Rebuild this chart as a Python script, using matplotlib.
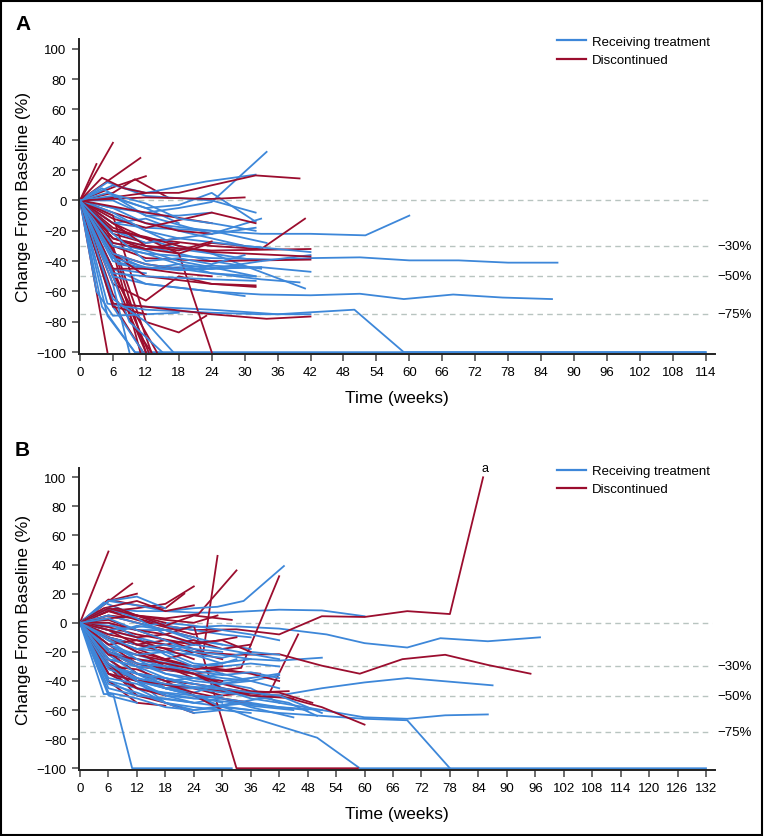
import matplotlib
matplotlib.use("Agg")
import matplotlib.pyplot as plt
from matplotlib.patches import Rectangle
import matplotlib.transforms as mtransforms

plt.rcParams['font.family'] = ['Liberation Sans', 'DejaVu Sans']

BLUE = '#3d87d9'
RED = '#9b0d2e'
GRID = '#b8c4c0'

# ---- data: (weeks, % change from baseline) per patient ----
a_treat = [
    ([0, 6, 12, 24, 33, 42, 52, 60], [0, -15, -18, -20, -22, -22, -23, -10]),
    ([0, 6, 12, 24, 36, 42, 51, 60, 69, 78, 87], [0, -30, -35, -38, -39, -38, -37.5, -39.5, -39.5, -41, -41]),
    ([0, 6, 12, 24, 33, 42, 51, 59, 68, 77, 86], [0, -45, -55, -60, -62, -62.5, -61.5, -65, -62, -64, -65]),
    ([0, 6, 12, 24, 36, 50, 59, 114], [0, -68, -70, -72, -75, -72, -100, -100]),
    ([0, 5, 10, 114], [0, -76, -100, -100]),
    ([0, 6, 12, 18, 24, 34], [0, -5, -8, -5, -1, 32]),
    ([0, 6, 12, 23, 32], [0, 10, 5, 12.5, 17]),
    ([0, 5, 12, 24, 32], [0, 12, 3, 0, -8]),
    ([0, 6, 12, 18, 24, 32], [0, 2, -5, -3, 5, -14]),
    ([0, 6, 12, 18, 24, 33], [0, -10, -20, -30, -35, -40]),
    ([0, 6, 12, 24, 33], [0, -25, -30, -40, -45]),
    ([0, 6, 12, 24, 33, 42], [0, -35, -45, -45, -44, -47]),
    ([0, 6, 12, 18, 24, 32], [0, -40, -45, -42, -48, -50]),
    ([0, 6, 12, 24, 30], [0, -50, -55, -60, -63]),
    ([0, 6, 12, 18, 24, 41], [0, -20, -25, -32, -35, -58]),
    ([0, 6, 12, 24, 34], [0, -5, -15, -20, -28]),
    ([0, 6, 11.5], [0, -70, -100]),
    ([0, 6, 12], [0, -45, -48]),
    ([0, 7, 12, 18, 24, 30], [0, -42, -45, -44, -43, -44]),
    ([0, 6, 12, 18, 24, 30, 33], [0, -15, -12, -20, -25, -30, -31]),
    ([0, 6, 12, 24, 33], [0, 3, -10, -22, -12]),
    ([0, 6, 12, 18, 24], [0, 0, -10, -10, -8]),
    ([0, 4, 8, 12, 18], [0, 8, 0, -5, -15]),
    ([0, 6, 12, 18, 24, 32], [0, -28, -33, -40, -44, -50]),
    ([0, 5, 12, 24, 33, 42], [0, -68, -72, -74, -75, -75]),
    ([0, 3, 6, 12, 18], [0, -60, -76, -75, -74]),
    ([0, 6, 9, 15], [0, -50, -80, -100]),
    ([0, 4, 10], [0, -70, -100]),
    ([0, 6, 12, 18, 24, 33, 42], [0, -30, -35, -42, -45, -40, -36]),
    ([0, 6, 12, 18, 30, 42], [0, -20, -28, -25, -30, -34]),
    ([0, 6, 12, 18, 24, 32], [0, -8, -20, -25, -22, -18]),
    ([0, 6, 12, 24, 33, 40], [0, -35, -42, -48, -52, -54]),
    ([0, 6, 12, 17], [0, -65, -80, -100]),
    ([0, 6, 9], [0, -55, -100]),
    ([0, 6, 12, 18, 24, 33], [0, -38, -44, -46, -45, -44]),
    ([0, 6, 12, 18, 24, 30], [0, -22, -40, -38, -42, -36]),
    ([0, 5, 12, 18, 24, 32], [0, 5, -2, -12, -15, -20]),
    ([0, 6, 12, 24, 32], [0, -48, -50, -52, -53]),
]

a_disc = [
    ([0, 3], [0, 24]),
    ([0, 6], [0, 38]),
    ([0, 11], [0, 28]),
    ([0, 7, 12], [0, 10, 16]),
    ([0, 6, 10, 16], [0, 5, 14, 2]),
    ([0, 5], [0, -100]),
    ([0, 6, 12], [0, -30, -100]),
    ([0, 6, 12.5], [0, -45, -100]),
    ([0, 6, 13], [0, -62, -100]),
    ([0, 5, 11], [0, -20, -100]),
    ([0, 7, 14], [0, -55, -100]),
    ([0, 6, 12], [0, -50, -100]),
    ([0, 7, 13], [0, -38, -100]),
    ([0, 6, 11.5], [0, -68, -100]),
    ([0, 6, 12, 18, 23], [0, -10, -80, -87, -76]),
    ([0, 6, 12, 18, 24], [0, -18, -25, -35, -100]),
    ([0, 6, 12, 18, 24, 32, 40], [0, 2, 5, 5, 10, 16.5, 14.5]),
    ([0, 6, 12, 24, 33, 41], [0, -15, -25, -30, -32, -12]),
    ([0, 6, 12, 24, 42], [0, -25, -30, -33, -32]),
    ([0, 6, 12, 24, 42], [0, -30, -38, -40, -39]),
    ([0, 6, 12, 24, 32], [0, -35, -50, -55, -56]),
    ([0, 6, 12, 18, 24, 32], [0, -55, -66, -50, -55, -57]),
    ([0, 6, 12, 24, 30], [0, 1, 2, 1, 2]),
    ([0, 6, 12, 18, 24], [0, -8, -15, -20, -22]),
    ([0, 6, 12, 18], [0, -22, -28, -25]),
    ([0, 6, 12, 18, 24, 30], [0, -28, -32, -35, -28, -30]),
    ([0, 6, 12, 24, 32], [0, -12, -18, -8, -15]),
    ([0, 6, 12], [0, -70, -75]),
    ([0, 6, 12, 24, 34, 42], [0, -68, -70, -75, -78, -76.5]),
    ([0, 6, 12, 18], [0, -35, -42, -45]),
    ([0, 4, 8, 12], [0, 15, 8, 5]),
    ([0, 6, 12, 18, 24], [0, -45, -45, -48, -50]),
    ([0, 6, 12, 24], [0, -4, -8, -15]),
    ([0, 6, 12, 18, 24, 42], [0, -20, -24, -30, -34, -37]),
    ([0, 6, 12, 18], [0, -25, -32, -28]),
    ([0, 6, 12, 18, 24], [0, -15, -30, -33, -27]),
]

b_treat = [
    ([0, 6, 12, 18, 24, 30, 42, 51, 60], [0, 10, 8, 8, 7, 7, 9, 8.5, 4.5]),
    ([0, 6, 12, 18, 24, 30, 36, 42, 52, 60, 69, 76, 86, 97], [0, -2, -5, -5, -3, -2, -3, -4, -8, -14, -17, -10.6, -12.7, -10]),
    ([0, 6, 12, 24, 29, 42, 51, 60, 69, 87], [0, -30, -40, -50, -57, -50, -45, -41, -38, -43]),
    ([0, 6, 12, 24, 36, 50, 59, 132], [0, -20, -35, -50, -65, -79, -100, -100]),
    ([0, 6, 12, 24, 36, 42, 51, 60, 69, 78], [0, -40, -50, -55, -60, -62, -64, -66, -67, -100]),
    ([0, 6, 12, 24, 36, 42, 51, 60, 69, 77, 86], [0, -35, -45, -52, -56, -58, -60, -65, -66, -63.6, -63]),
    ([0, 5, 7, 11, 32], [0, -49, -49, -100, -100]),
    ([0, 6, 12, 18, 24, 29, 34.5, 43], [0, 15, 12, 8, 10, 11, 15, 39]),
    ([0, 6, 12, 24, 36, 42, 51], [0, -20, -25, -30, -25, -26, -24]),
    ([0, 6, 12, 18], [0, 15, 18, 10]),
    ([0, 5, 12, 18, 24, 30, 36], [0, 14, 5, -2, -5, -8, -10]),
    ([0, 6, 12, 18, 24, 30, 36, 42], [0, -10, -15, -20, -28, -30, -28, -30]),
    ([0, 6, 12, 18, 24, 30], [0, -20, -35, -45, -50, -55]),
    ([0, 6, 12, 18, 24, 30, 36], [0, -30, -45, -55, -60, -58, -60]),
    ([0, 6, 12, 18, 24, 30, 36, 45], [0, -25, -40, -50, -55, -52, -57, -60]),
    ([0, 6, 12, 18, 24, 30], [0, -5, -10, -15, -18, -20]),
    ([0, 6, 12, 18, 24, 30, 36, 42], [0, -15, -22, -28, -35, -38, -40, -36]),
    ([0, 6, 12, 18, 24, 30], [0, -35, -40, -55, -62, -60]),
    ([0, 6, 12, 18, 24], [0, -45, -50, -52, -55]),
    ([0, 6, 12, 18, 24, 30, 36], [0, -8, -2, -5, -10, -15, -18]),
    ([0, 6, 12, 18, 24, 30, 36, 42], [0, -25, -30, -32, -35, -40, -38, -35]),
    ([0, 6, 12, 18, 24, 30, 36, 45], [0, -40, -45, -48, -50, -52, -58, -65]),
    ([0, 6, 12, 18, 24, 30, 36, 44, 50], [0, -20, -30, -45, -45, -48, -50, -55, -64]),
    ([0, 6, 12, 18, 24, 30], [0, 5, 0, -5, -12, -15]),
    ([0, 6, 12, 24, 30, 36, 42], [0, -12, -18, -22, -24, -20, -22]),
    ([0, 6, 12, 18, 24, 30], [0, -30, -35, -40, -38, -35]),
    ([0, 6, 12, 18, 24, 36, 42, 51], [0, -18, -28, -35, -38, -45, -55, -60]),
    ([0, 6, 12, 18, 24, 30, 36], [0, 0, -10, -22, -30, -35, -40]),
    ([0, 6, 12, 18, 24, 30], [0, -28, -38, -45, -48, -42]),
    ([0, 6, 12, 18, 24, 30, 36, 42], [0, -5, -3, 0, -2, -5, -8, -12]),
    ([0, 6, 12, 18, 24, 30, 36], [0, -42, -48, -55, -58, -60, -62]),
    ([0, 6, 12, 18, 24, 30, 33], [0, -15, -25, -30, -30, -28, -25]),
    ([0, 6, 12, 18, 24, 30, 36, 42], [0, -22, -35, -38, -45, -42, -40, -45]),
    ([0, 6, 12, 18, 24, 30, 42], [0, 10, 3, -8, -15, -18, -25]),
    ([0, 6, 12], [0, -50, -55]),
    ([0, 6, 12, 18, 24], [0, -18, -22, -20, -15]),
    ([0, 6, 12, 18, 24, 30, 36, 42, 51], [0, -30, -35, -38, -42, -45, -48, -50, -62]),
    ([0, 6, 12, 18, 24, 30, 36, 42], [0, -32, -38, -42, -44, -46, -52, -55]),
    ([0, 6, 12, 18, 24, 30, 36], [0, -12, -25, -35, -40, -42, -38]),
    ([0, 6, 12, 18, 24, 30], [0, -38, -42, -50, -52, -50]),
    ([0, 6, 12, 18, 24, 30, 36, 42], [0, -20, -28, -30, -33, -36, -34, -38]),
    ([0, 6, 12, 18, 24], [0, -25, -30, -38, -42]),
    ([0, 6, 12, 18, 24, 30, 36], [0, 3, -5, -12, -20, -22, -25]),
    ([0, 6, 12, 18, 24, 30, 36, 42, 48], [0, -28, -40, -45, -50, -52, -55, -58, -60]),
    ([0, 6, 12, 18, 24, 30], [0, -10, -18, -15, -22, -28]),
    ([0, 6, 12, 18, 24, 30, 36], [0, -48, -52, -58, -60, -57, -55]),
]

b_disc = [
    ([0, 6], [0, 49]),
    ([0, 11], [0, 27]),
    ([0, 6, 12], [0, 15, 20]),
    ([0, 6, 12, 18, 24], [0, 8, 10, 13, 25]),
    ([0, 6, 12, 18, 22], [0, 16, 12, 10, 20]),
    ([0, 6, 12, 18, 26, 29], [0, -10, -15, -12, -20, 46]),
    ([0, 6, 12, 18, 25, 33], [0, 8, 5, 3, 6, 36]),
    ([0, 6, 12, 24, 34, 42], [0, -20, -30, -35, -31, 32]),
    ([0, 6, 12, 24, 33, 40, 46], [0, -30, -40, -45, -47, -48, -8]),
    ([0, 6, 12, 18, 24, 33, 42, 51, 60, 69, 78, 85], [0, 5, 3, -2, -5, -4.5, -8, 4.5, 4, 8, 6, 100]),
    ([0, 6, 12, 24, 33, 42, 51, 59, 68, 77, 86, 95], [0, -10, -15, -20, -22, -21.6, -29.5, -35, -25, -22, -29, -35]),
    ([0, 6, 12, 24, 33, 42, 51, 60], [0, -25, -40, -45, -48, -50, -58, -70]),
    ([0, 6, 12, 18, 24, 33, 58.6], [0, 2, -5, -8, -2, -100, -100]),
    ([0, 6, 12, 18], [0, -40, -55, -57]),
    ([0, 6, 12, 18, 24], [0, -30, -50, -55, -62]),
    ([0, 6, 12, 18, 24, 30], [0, -20, -35, -40, -50, -60]),
    ([0, 6, 12, 18, 24, 30, 36], [0, -25, -38, -45, -45, -50, -48]),
    ([0, 6, 12, 18, 24, 30], [0, -10, -20, -25, -20, -25]),
    ([0, 6, 12, 18, 24], [0, 5, 0, -5, -10]),
    ([0, 6, 12, 18, 24, 30], [0, 8, 2, -3, -8, -5]),
    ([0, 6, 12, 18, 24, 30, 36, 42], [0, -12, -18, -25, -30, -32, -35, -40]),
    ([0, 6, 12, 24, 33], [0, -3, -8, -15, -10]),
    ([0, 6, 12, 18, 24, 30], [0, -15, -28, -30, -38, -40]),
    ([0, 6, 12, 18], [0, -5, -15, -20]),
    ([0, 5, 12, 18, 24], [0, 10, 15, 8, 12]),
    ([0, 6, 12, 18, 24, 30, 36], [0, -8, -12, -15, -12, -18, -15]),
    ([0, 6, 12, 24, 30, 38], [0, -18, -22, -30, -33, -35]),
    ([0, 6, 12, 18, 24, 30, 36, 44], [0, -30, -32, -40, -42, -45, -48, -47]),
    ([0, 6, 12], [0, -35, -45]),
    ([0, 6, 12, 18, 24], [0, 0, -5, -12, -15]),
    ([0, 4, 8, 12, 18], [0, 8, 10, 5, 0]),
    ([0, 6, 12, 18, 24, 30, 36, 42, 49], [0, -10, -20, -30, -35, -42, -47, -48, -55]),
    ([0, 6, 12, 18, 24, 29], [0, 3, 5, 2, 0, 5]),
    ([0, 6, 12, 24, 30, 36, 45], [0, -20, -28, -35, -45, -50, -52]),
    ([0, 6, 12, 18, 24, 30, 36], [0, -35, -40, -42, -48, -52, -55]),
    ([0, 6, 12, 18, 24, 32], [0, 10, 5, -2, 5, 2]),
    ([0, 6, 12, 18, 24, 30], [0, -22, -25, -28, -32, -30]),
    ([0, 6, 12, 18, 24], [0, -15, -12, -18, -25]),
    ([0, 6, 12, 18, 24, 30, 36], [0, -5, -10, -8, -14, -12, -20]),
    ([0, 6, 12, 18], [0, -28, -45, -50]),
]

ref_levels = [0, -30, -50, -75]
ref_labels = ['', '\u221230%', '\u221250%', '\u221275%']
yticks = list(range(-100, 101, 20))
xticks_a = list(range(0, 115, 6))
xticks_b = list(range(0, 133, 6))

fig = plt.figure(figsize=(7.64, 8.37), dpi=100)


def panel(rect, treat, disc, xlim, xticks, ref_end):
    ax = fig.add_axes(rect)
    for lvl in ref_levels:
        ax.plot([0, ref_end], [lvl, lvl], color=GRID, lw=1.0, ls=(0, (4, 3)), zorder=1)
    n = max(len(treat), len(disc))
    for i in range(n):
        if i < len(disc):
            w, v = disc[i]
            ax.plot(w, v, color=RED, lw=1.3, zorder=2)
        if i < len(treat):
            w, v = treat[i]
            ax.plot(w, v, color=BLUE, lw=1.3, zorder=2)
    ax.set_xlim(*xlim)
    ax.set_ylim(-101.2, 106.4)
    ax.set_xticks(xticks)
    ax.set_yticks(yticks)
    ax.set_yticklabels([str(t).replace('-', '\u2212') for t in yticks])
    for s in ['top', 'right']:
        ax.spines[s].set_visible(False)
    for s in ['left', 'bottom']:
        ax.spines[s].set_linewidth(1.4)
        ax.spines[s].set_color('#222222')
    ax.tick_params(direction='out', length=5, width=1.1, color='#444444',
                   labelsize=9.5, pad=4)
    ax.set_xlabel('Time (weeks)', fontsize=12.5, labelpad=8)
    ax.set_ylabel('Change From Baseline (%)', fontsize=12.5, labelpad=4)
    trans = mtransforms.blended_transform_factory(ax.transAxes, ax.transData)
    for lvl, lab in zip(ref_levels, ref_labels):
        if lab:
            ax.text(1.003, lvl, lab, transform=trans, fontsize=9.5,
                    va='center', ha='left')
    h1, = ax.plot([], [], color=BLUE, lw=1.6, label='Receiving treatment')
    h2, = ax.plot([], [], color=RED, lw=1.6, label='Discontinued')
    ax.legend(handles=[h1, h2], loc='upper left', bbox_to_anchor=(0.752, 1.01),
              frameon=False, fontsize=9.5, handlelength=2.2, handletextpad=0.45,
              borderpad=0, borderaxespad=0, labelspacing=0.45)
    return ax


ax_a = panel([79 / 764, 1 - 355 / 837, 636 / 764, 315 / 837],
             a_treat, a_disc, (-0.18, 115.7), xticks_a, 115)
ax_b = panel([79 / 764, 1 - 771 / 837, 636 / 764, 302 / 837],
             b_treat, b_disc, (-0.21, 133.9), xticks_b, 133.3)

ax_b.text(85.5, 102, 'a', fontsize=9, ha='center', va='bottom')

fig.text(15 / 764, 1 - 25 / 837, 'A', fontsize=15, fontweight='bold', va='center', ha='left')
fig.text(15 / 764, 1 - 451 / 837, 'B', fontsize=15, fontweight='bold', va='center', ha='left')

fig.patches.append(Rectangle((0.001, 0.001), 0.997, 0.997, transform=fig.transFigure,
                             fill=False, edgecolor='black', lw=1.5))

fig.savefig('out.png', dpi=100)
